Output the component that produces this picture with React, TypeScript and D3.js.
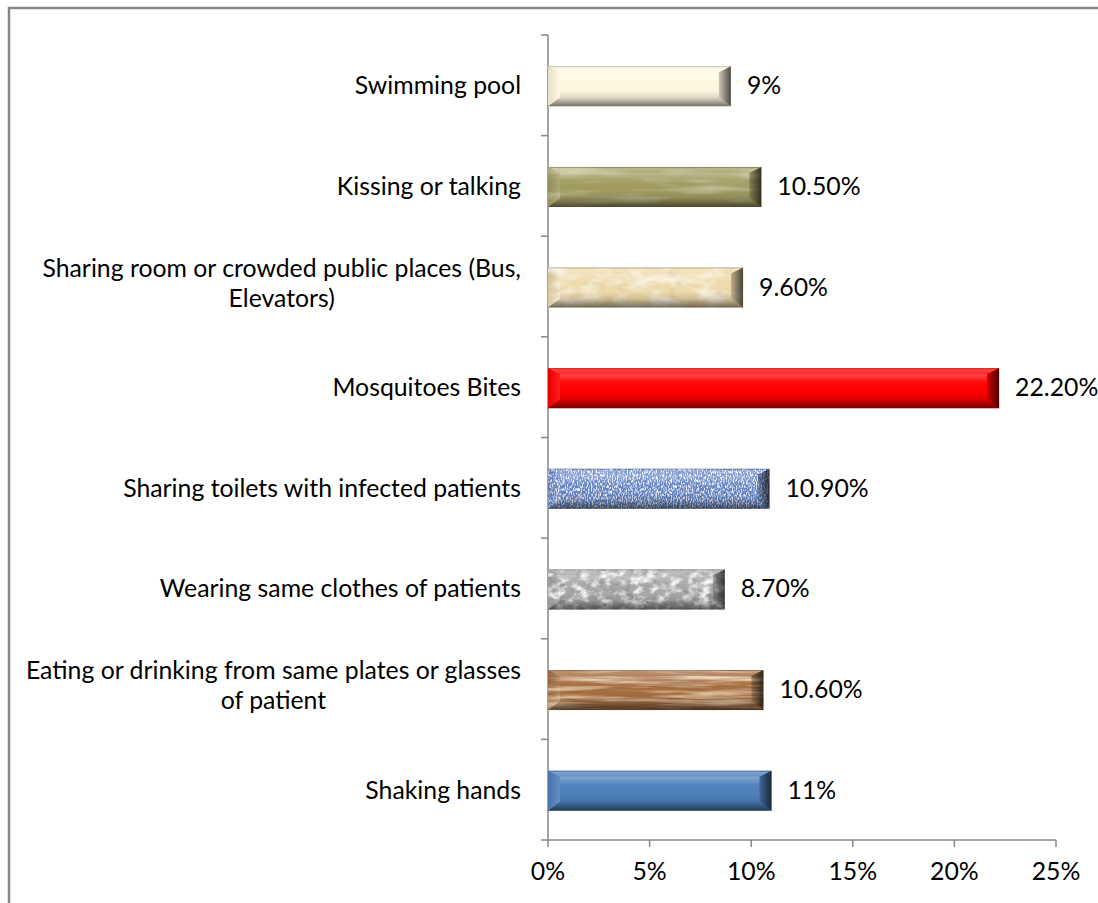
import React, { useEffect, useRef } from "react";
import * as d3 from "d3";

const categories = [
  "Swimming pool",
  "Kissing or talking",
  "Sharing room or crowded public places (Bus,\nElevators)",
  "Mosquitoes Bites",
  "Sharing toilets with infected patients",
  "Wearing same clothes of patients",
  "Eating or drinking from same plates or glasses\nof patient",
  "Shaking hands",
];
const values = [9, 10.5, 9.6, 22.2, 10.9, 8.7, 10.6, 11];
const valueLabels = ["9%", "10.50%", "9.60%", "22.20%", "10.90%", "8.70%", "10.60%", "11%"];
const xTicks = [0, 5, 10, 15, 20, 25];
const xTickLabels = ["0%", "5%", "10%", "15%", "20%", "25%"];
const barColors = ["#FFF8E2", "#A29C62", "#EEDBAA", "#FF0000", "#6286C6", "#AAAAAA", "#A66C3C", "#4F81BD"];
const barTextures = ["plain", "olive", "parchment", "plain", "denim", "marble", "wood", "plain"];

const FONT = "Lato, 'Open Sans', sans-serif";
const FS = 24.8;

export default function App() {
  const ref = useRef<SVGSVGElement | null>(null);

  useEffect(() => {
    const svg = d3.select(ref.current);
    svg.selectAll("*").remove();

    const x = d3.scaleLinear().domain([0, 25]).range([548, 1056]);
    const y = d3.scaleBand<string>().domain(categories).range([35, 840]).paddingInner(0.6).paddingOuter(0.3);
    const axisColor = "#878787";

    const defs = svg.append("defs");
    const lg = (id: string, x2: number, y2: number, stops: [number, string, number][]) => {
      const g = defs.append("linearGradient").attr("id", id).attr("x1", 0).attr("y1", 0).attr("x2", x2).attr("y2", y2);
      stops.forEach(([o, c, a]) => g.append("stop").attr("offset", o).attr("stop-color", c).attr("stop-opacity", a));
    };
    lg("gTop", 0, 1, [[0, "#000", 0.3], [0.25, "#fff", 0.25], [1, "#fff", 0.15]]);
    lg("gBot", 0, 1, [[0, "#000", 0.12], [1, "#000", 0.55]]);
    lg("gRight", 1, 0, [[0, "#000", 0.2], [1, "#000", 0.7]]);
    lg("gLeft", 1, 0, [[0, "#000", 0.1], [1, "#fff", 0.12]]);
    lg("gFace", 0, 1, [[0, "#fff", 0.3], [0.3, "#fff", 0.05], [0.7, "#000", 0.0], [1, "#000", 0.12]]);

    const mk = (id: string, layers: { freq: string; oct: number; seed: number; color: [number, number, number]; a: number; b: number; ch: number }[]) => {
      const f = defs.append("filter").attr("id", id).attr("x", 0).attr("y", 0).attr("width", 1).attr("height", 1);
      const merge: string[] = ["SourceGraphic"];
      layers.forEach((l, i) => {
        f.append("feTurbulence").attr("type", "fractalNoise").attr("baseFrequency", l.freq).attr("numOctaves", l.oct).attr("seed", l.seed).attr("result", `n${i}`);
        const row = [0, 0, 0, 0, 0];
        row[l.ch] = l.a;
        row[4] = l.b;
        const vals = `0 0 0 0 ${l.color[0]} 0 0 0 0 ${l.color[1]} 0 0 0 0 ${l.color[2]} ${row.join(" ")}`;
        f.append("feColorMatrix").attr("in", `n${i}`).attr("type", "matrix").attr("values", vals).attr("result", `c${i}`);
        f.append("feComposite").attr("in", `c${i}`).attr("in2", "SourceGraphic").attr("operator", "in").attr("result", `k${i}`);
        merge.push(`k${i}`);
      });
      const m = f.append("feMerge");
      merge.forEach((r) => m.append("feMergeNode").attr("in", r));
    };
    mk("denim", [
      { freq: "0.8 0.35", oct: 2, seed: 4, color: [0.85, 0.9, 1], a: 4, b: -1.8, ch: 0 },
      { freq: "0.6 0.6", oct: 2, seed: 9, color: [0.15, 0.2, 0.4], a: 3, b: -1.7, ch: 1 },
    ]);
    mk("marble", [
      { freq: "0.09 0.13", oct: 4, seed: 2, color: [0.95, 0.95, 0.95], a: 3.2, b: -1.4, ch: 0 },
      { freq: "0.12 0.16", oct: 4, seed: 7, color: [0.3, 0.3, 0.3], a: 3.2, b: -1.6, ch: 1 },
    ]);
    mk("wood", [
      { freq: "0.012 0.22", oct: 3, seed: 3, color: [0.85, 0.62, 0.4], a: 2.6, b: -1.1, ch: 0 },
      { freq: "0.02 0.3", oct: 3, seed: 11, color: [0.38, 0.22, 0.1], a: 2.6, b: -1.3, ch: 1 },
    ]);
    mk("parchment", [
      { freq: "0.04 0.08", oct: 3, seed: 5, color: [1, 0.97, 0.88], a: 2.2, b: -0.95, ch: 0 },
      { freq: "0.06 0.1", oct: 3, seed: 8, color: [0.7, 0.55, 0.3], a: 2.0, b: -1.1, ch: 1 },
    ]);
    mk("olive", [
      { freq: "0.015 0.12", oct: 2, seed: 6, color: [0.8, 0.78, 0.55], a: 1.2, b: -0.55, ch: 0 },
    ]);

    // outer border
    svg.append("rect").attr("x", 9).attr("y", 8).attr("width", 1200).attr("height", 1000)
      .attr("fill", "none").attr("stroke", "#868686").attr("stroke-width", 2.5);

    // axes
    const ax = svg.append("g").attr("stroke", axisColor).attr("stroke-width", 1.5);
    ax.append("line").attr("x1", 548).attr("x2", 548).attr("y1", 35).attr("y2", 840);
    ax.append("line").attr("x1", 541).attr("x2", x(25)).attr("y1", 840).attr("y2", 840);
    const bounds = categories.map((c) => (y(c) as number) - (y.step() * y.paddingInner()) / 2);
    bounds.forEach((b) => ax.append("line").attr("x1", 541).attr("x2", 548).attr("y1", b).attr("y2", b));
    xTicks.forEach((t) => ax.append("line").attr("x1", x(t)).attr("x2", x(t)).attr("y1", 840).attr("y2", 847));

    svg.append("g").selectAll("text").data(xTicks).join("text")
      .attr("x", (d) => x(d)).attr("y", 880).attr("text-anchor", "middle")
      .attr("font-family", FONT).attr("font-size", FS).attr("fill", "#000")
      .text((d, i) => xTickLabels[i]);

    // bars
    const bh = 40;
    categories.forEach((c, i) => {
      const cy = (y(c) as number) + y.bandwidth() / 2 + 1;
      const x0 = x(0);
      const x1 = x(values[i]);
      const y0 = cy - bh / 2;
      const y1 = cy + bh / 2;
      const g = svg.append("g");
      const base = g.append("rect").attr("x", x0).attr("y", y0).attr("width", x1 - x0).attr("height", bh).attr("fill", barColors[i]);
      if (barTextures[i] !== "plain") base.attr("filter", `url(#${barTextures[i]})`);
      const bx = 12, bt = 6, bb = 9;
      g.append("rect").attr("x", x0 + bx).attr("y", y0 + bt).attr("width", x1 - x0 - 2 * bx).attr("height", bh - bt - bb).attr("fill", "url(#gFace)");
      const poly = (pts: number[][], fill: string) => g.append("polygon").attr("points", pts.map((p) => p.join(",")).join(" ")).attr("fill", fill);
      poly([[x0, y0], [x1, y0], [x1 - bx, y0 + bt], [x0 + bx, y0 + bt]], "url(#gTop)");
      poly([[x0, y1], [x1, y1], [x1 - bx, y1 - bb], [x0 + bx, y1 - bb]], "url(#gBot)");
      poly([[x0, y0], [x0 + bx, y0 + bt], [x0 + bx, y1 - bb], [x0, y1]], "url(#gLeft)");
      poly([[x1, y0], [x1 - bx, y0 + bt], [x1 - bx, y1 - bb], [x1, y1]], "url(#gRight)");

      svg.append("text").attr("x", x1 + 16).attr("y", cy + 8)
        .attr("font-family", FONT).attr("font-size", FS).attr("fill", "#000").text(valueLabels[i]);

      // category label
      const lines = c.split("\n");
      const lh = 30;
      const shift = (lines.length - 1) * 4;
      const t = svg.append("text").attr("font-family", FONT).attr("font-size", FS).attr("fill", "#000").attr("text-anchor", "middle");
      const spans = lines.map((ln, k) => t.append("tspan").attr("y", cy + 8 - shift - ((lines.length - 1) * lh) / 2 + k * lh).text(ln));
      const widths = spans.map((s) => (s.node() as SVGTSpanElement).getComputedTextLength());
      const maxW = Math.max(...widths);
      spans.forEach((s) => s.attr("x", 521 - maxW / 2));
    });
  }, []);

  return (
    <svg ref={ref} width={1098} height={903} style={{ position: "absolute", left: 0, top: 0, background: "#fff" }} />
  );
}
